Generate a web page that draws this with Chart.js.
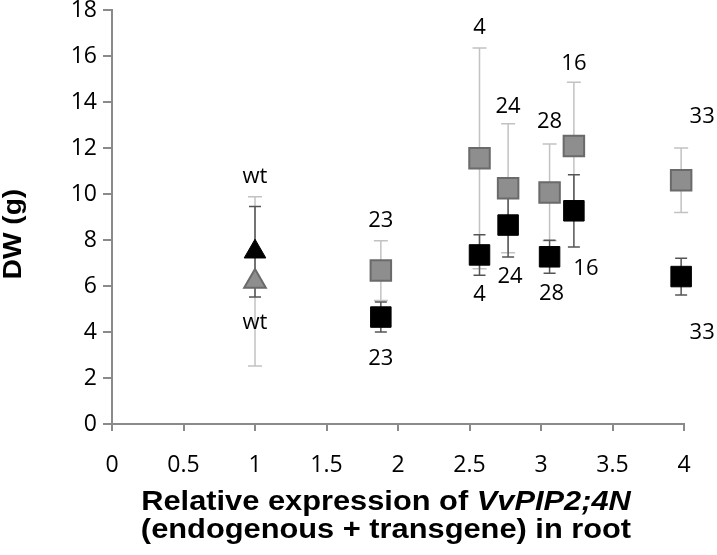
<!DOCTYPE html>
<html>
<head>
<meta charset="utf-8">
<script src="https://cdn.jsdelivr.net/npm/chart.js@4.4.0/dist/chart.umd.min.js"></script>
<style>
  body { margin: 0; background: #fff; }
  canvas { display: block; }
</style>
</head>
<body>
<canvas id="dwChart" width="717" height="555"></canvas>
<script>
// relative expression (x) for wt and each transgenic line
const expression = [1.0, 1.88, 2.57, 2.77, 3.06, 3.23, 3.98];
const lineNames = ["wt", "23", "4", "24", "28", "16", "33"];
// dry weight (g), grey series and black series, with error bars
const dwGray = [6.2, 6.67, 11.55, 10.25, 10.07, 12.09, 10.6];
const dwGrayErr = [3.68, 1.3, 4.8, 2.8, 2.1, 2.77, 1.4];
const dwBlack = [7.49, 4.65, 7.35, 8.65, 7.27, 9.27, 6.41];
const dwBlackErr = [1.97, 0.65, 0.88, 1.39, 0.72, 1.57, 0.8];

// label nudges in px (upper labels sit above grey bars, lower below black bars)
const upperNudge = { dx: [0, 0, 0, 0, 0, 0, 21], dy: [0, 0, 0, 3, -2, 2, -11] };
const lowerNudge = { dx: [0, 0, 0, 2, 2, 12, 21], dy: [6, 7, 0, 0, 0, 2, 18] };

const tickFont = '"Open Sans", sans-serif';
const axisGrey = "#8a8a8a";

const errorBars = {
  id: "errorBars",
  beforeDatasetsDraw(chart) {
    const { ctx, scales: { x, y } } = chart;
    const drawBars = (means, errs, color, cap) => {
      ctx.save();
      ctx.strokeStyle = color;
      ctx.lineWidth = 1.5;
      means.forEach((m, i) => {
        const px = x.getPixelForValue(expression[i]);
        const top = y.getPixelForValue(m + errs[i]);
        const bot = y.getPixelForValue(m - errs[i]);
        ctx.beginPath();
        ctx.moveTo(px, top);
        ctx.lineTo(px, bot);
        ctx.moveTo(px - cap, top);
        ctx.lineTo(px + cap, top);
        ctx.moveTo(px - cap, bot);
        ctx.lineTo(px + cap, bot);
        ctx.stroke();
      });
      ctx.restore();
    };
    drawBars(dwGray, dwGrayErr, "#c2c2c2", 7);
    drawBars(dwBlack, dwBlackErr, "#555555", 6);
  }
};

const pointLabels = {
  id: "pointLabels",
  afterDatasetsDraw(chart) {
    const { ctx, scales: { x, y } } = chart;
    ctx.save();
    ctx.font = "22px " + tickFont;
    ctx.fillStyle = "#000";
    ctx.textAlign = "center";
    ctx.textBaseline = "middle";
    lineNames.forEach((name, i) => {
      const px = x.getPixelForValue(expression[i]);
      const top = y.getPixelForValue(dwGray[i] + dwGrayErr[i]);
      const bot = y.getPixelForValue(dwBlack[i] - dwBlackErr[i]);
      ctx.fillText(name, px + upperNudge.dx[i], top - 20 + upperNudge.dy[i]);
      ctx.fillText(name, px + lowerNudge.dx[i], bot + 20 + lowerNudge.dy[i]);
    });
    ctx.restore();
  }
};

const axisTitles = {
  id: "axisTitles",
  afterDraw(chart) {
    const { ctx } = chart;
    ctx.save();
    ctx.fillStyle = "#000";
    ctx.textBaseline = "alphabetic";
    // y title
    ctx.save();
    ctx.translate(21, 234);
    ctx.rotate(-Math.PI / 2);
    ctx.scale(1.08, 1);
    ctx.textAlign = "center";
    ctx.font = 'bold 26px "Liberation Sans", Arial, sans-serif';
    ctx.fillText("DW (g)", 0, 0);
    ctx.restore();
    // x title, first line with italic gene name (source art is a bit stretched)
    const bold = 'bold 28px "Liberation Sans", Arial, sans-serif';
    const boldItalic = 'italic bold 28px "Liberation Sans", Arial, sans-serif';
    ctx.save();
    ctx.translate(386, 0);
    ctx.scale(1.1, 1);
    const part1 = "Relative expression of ";
    const part2 = "VvPIP2;4N";
    ctx.font = bold;
    const w1 = ctx.measureText(part1).width;
    ctx.font = boldItalic;
    const w2 = ctx.measureText(part2).width;
    const sx = -(w1 + w2) / 2;
    ctx.textAlign = "left";
    ctx.font = bold;
    ctx.fillText(part1, sx, 510);
    ctx.font = boldItalic;
    ctx.fillText(part2, sx + w1, 510);
    ctx.font = bold;
    ctx.textAlign = "center";
    ctx.fillText("(endogenous + transgene) in root", 0, 538);
    ctx.restore();
    ctx.restore();
  }
};

new Chart(document.getElementById("dwChart"), {
  type: "scatter",
  data: {
    datasets: [
      {
        label: "black",
        data: expression.map((v, i) => ({ x: v, y: dwBlack[i] })),
        pointStyle: expression.map((_, i) => (i === 0 ? "triangle" : "rect")),
        pointRadius: expression.map((_, i) => (i === 0 ? 12.5 : 14.5)),
        backgroundColor: "#000",
        borderColor: "#000",
        borderWidth: 1,
        clip: false
      },
      {
        label: "grey",
        data: expression.map((v, i) => ({ x: v, y: dwGray[i] })),
        pointStyle: expression.map((_, i) => (i === 0 ? "triangle" : "rect")),
        pointRadius: expression.map((_, i) => (i === 0 ? 12.5 : 14.5)),
        backgroundColor: "#8e8e8e",
        borderColor: "#6a6a6a",
        borderWidth: 2,
        clip: false
      }
    ]
  },
  options: {
    responsive: false,
    animation: false,
    events: [],
    layout: { autoPadding: false, padding: { top: 10, right: 33, left: 0, bottom: 0 } },
    plugins: {
      legend: { display: false },
      tooltip: { enabled: false }
    },
    scales: {
      x: {
        type: "linear",
        min: 0,
        max: 4,
        afterFit: (scale) => {
          scale.height = 131;
          scale.paddingLeft = 0;
          scale.paddingRight = 0;
        },
        ticks: {
          stepSize: 0.5,
          color: "#000",
          padding: 21,
          font: { family: tickFont, size: 23 },
          callback: (v) => String(v)
        },
        grid: { drawOnChartArea: false, color: axisGrey, lineWidth: 2, tickLength: 7 },
        border: { color: axisGrey, width: 2 }
      },
      y: {
        min: 0,
        max: 18,
        afterFit: (scale) => {
          scale.width = 112;
          scale.paddingTop = 0;
          scale.paddingBottom = 0;
        },
        ticks: {
          stepSize: 2,
          color: "#000",
          padding: 6,
          font: { family: tickFont, size: 23 },
          callback: (v) => String(v)
        },
        grid: { drawOnChartArea: false, color: axisGrey, lineWidth: 2, tickLength: 9 },
        border: { color: axisGrey, width: 2 }
      }
    }
  },
  plugins: [errorBars, pointLabels, axisTitles]
});
</script>
</body>
</html>
